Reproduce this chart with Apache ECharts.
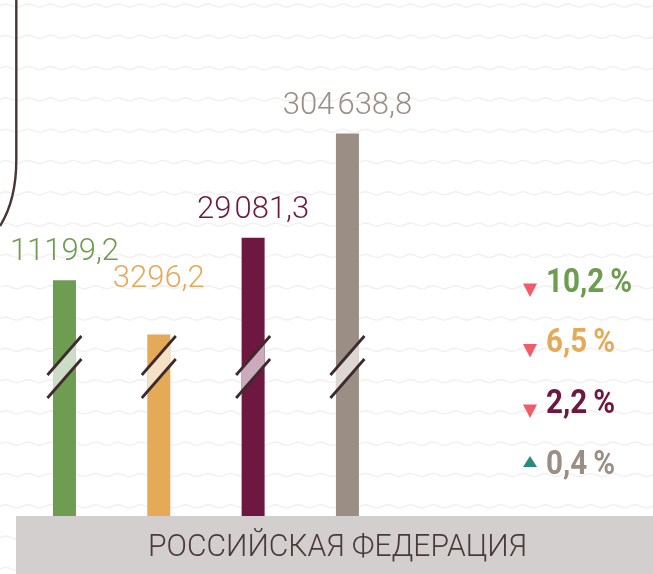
<!DOCTYPE html>
<html><head><meta charset="utf-8">
<script src="https://cdn.jsdelivr.net/npm/echarts@6/dist/echarts.min.js"></script>
<style>html,body{margin:0;padding:0;background:#fff}#c{width:653px;height:574px}</style>
</head><body><div id="c"></div>
<script>
// ---- data ----
const categories = ['Показатель 1', 'Показатель 2', 'Показатель 3', 'Показатель 4'];
const values = [11199.2, 3296.2, 29081.3, 304638.8];
const valueLabels = ['11199,2', '3296,2', '29\u200A081,3', '304\u200A638,8'];
const changes = [-10.2, -6.5, -2.2, 0.4];
const changeLabels = ['10,2\u2009%', '6,5\u2009%', '2,2\u2009%', '0,4\u2009%'];
const regionName = 'РОССИЙСКАЯ ФЕДЕРАЦИЯ';

// ---- styles ----
const colors = ['#6e9c50', '#e5aa57', '#6d1741', '#9b8e84'];
const lightColors = ['#cddcc4', '#f5e1c3', '#ccaabd', '#ddd6d2'];
const downColor = '#f25c6a', upColor = '#2b8a80';
const rowsY = [282, 342.5, 403, 464];

const chart = echarts.init(document.getElementById('c'), null, { renderer: 'canvas' });

// decorative wavy background
const waves = [];
for (let k = 0; k < 19; k++) {
  const y0 = 5.5 + 31.3 * k;
  const pts = [];
  for (let x = -4; x <= 660; x += 2) pts.push([x, y0 - 1.5 * Math.sin(2 * Math.PI * x / 22.5)]);
  waves.push({ type: 'polyline', z: 0, silent: true, shape: { points: pts },
    style: { stroke: '#f0f0f0', lineWidth: 1.4, fill: null } });
}

const frameStyle = { stroke: '#4a3535', lineWidth: 2.4, fill: null };
const graphics = waves.concat([
  { type: 'line', z: 1, silent: true, shape: { x1: 16.3, y1: 0, x2: 16.3, y2: 160 }, style: frameStyle },
  { type: 'bezierCurve', z: 1, silent: true,
    shape: { x1: 16.3, y1: 160, cpx1: 16.3, cpy1: 190, cpx2: 10, cpy2: 210, x2: 0, y2: 226 }, style: frameStyle },
  { type: 'rect', z: 20, silent: true, shape: { x: 16, y: 516, width: 640, height: 60 },
    style: { fill: '#d4cfcf' } },
  { type: 'text', z: 21, silent: true, x: 337.5, y: 548, scaleX: 0.94,
    style: { text: regionName, fill: '#4b3a3a', font: '300 32px Roboto', align: 'center', verticalAlign: 'middle' } }
]);

changes.forEach((c, i) => {
  const y = rowsY[i];
  const tri = c < 0
    ? [[523, y + 1.5], [537, y + 1.5], [530, y + 15]]
    : [[530, y - 8], [537, y + 3], [523, y + 3]];
  graphics.push({ type: 'polygon', z: 5, silent: true, shape: { points: tri },
    style: { fill: c < 0 ? downColor : upColor } });
  graphics.push({ type: 'text', z: 5, silent: true, x: 546, y: y + 1, scaleX: 0.87,
    style: { text: changeLabels[i], fill: colors[i], font: 'bold 34px Roboto', align: 'left', verticalAlign: 'middle' } });
});

const option = {
  backgroundColor: '#ffffff',
  animation: false,
  grid: { left: 17.3, right: 258.4, top: 131, bottom: 58 },
  xAxis: { type: 'category', data: categories, show: false },
  yAxis: { type: 'log', logBase: 10, min: 55.2, max: 322800, show: false },
  graphic: graphics,
  series: [
    {
      type: 'bar', z: 3, barWidth: 23,
      data: values.map((v, i) => ({
        value: v,
        itemStyle: { color: colors[i] },
        label: { color: colors[i], offset: i === 1 ? [0, -28] : [0, 0] }
      })),
      label: {
        show: true, position: 'top', distance: 12,
        fontFamily: 'Roboto', fontSize: 31, fontWeight: 300,
        formatter: p => valueLabels[p.dataIndex]
      }
    },
    {
      type: 'custom', z: 4, clip: false,
      data: values.map((v, i) => [i, v]),
      encode: { x: 0, y: 1 },
      renderItem: (params, api) => {
        const i = api.value(0);
        const cx = api.coord([i, api.value(1)])[0];
        const cs = params.coordSys;
        const bottom = cs.y + cs.height;
        const hw = 11.5, ext = 17, s = 19.5 / 17;
        const yu = bottom - 160.5, yl = bottom - 137.5;
        const lineStyle = { stroke: '#3d2b2d', lineWidth: 2.8 };
        return {
          type: 'group',
          children: [
            { type: 'polygon', shape: { points: [[cx - hw, yu + s * hw], [cx + hw, yu - s * hw], [cx + hw, yl - s * hw], [cx - hw, yl + s * hw]] },
              style: { fill: lightColors[i] } },
            { type: 'line', shape: { x1: cx - ext, y1: yu + s * ext, x2: cx + ext, y2: yu - s * ext }, style: lineStyle },
            { type: 'line', shape: { x1: cx - ext, y1: yl + s * ext, x2: cx + ext, y2: yl - s * ext }, style: lineStyle }
          ]
        };
      }
    }
  ]
};
chart.setOption(option);
</script></body></html>
